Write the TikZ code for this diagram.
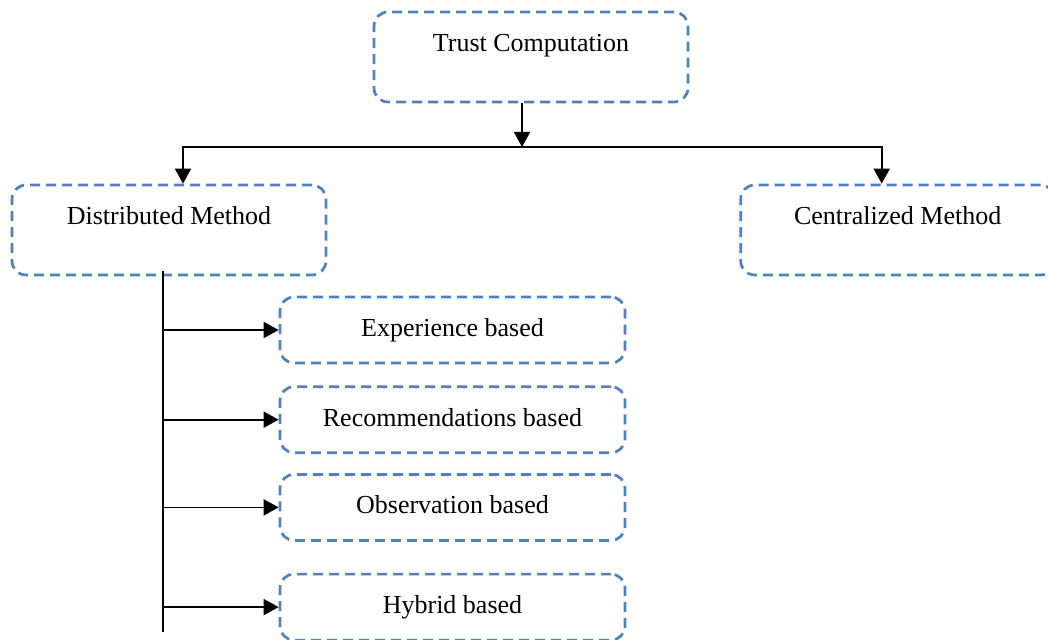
\documentclass[tikz,border=0pt]{standalone}
\usepackage{fontspec}
\setmainfont{Liberation Serif}
\usetikzlibrary{arrows.meta,positioning}
\definecolor{boxblue}{RGB}{79,129,189}

\begin{document}
\begin{tikzpicture}[
        x=0.5pt, y=-0.5pt,
        dashbox/.style={
            rectangle,
            draw=boxblue,
            dash pattern=on 5pt off 3pt,
            line width=1.35pt,
            rounded corners=7pt,
            align=center,
            inner sep=0pt,
            text height=9pt,
            font=\fontsize{13}{15}\selectfont
        },
        tallbox/.style={dashbox, minimum width=157pt, minimum height=45pt, text depth=14.5pt},
        shortbox/.style={dashbox, minimum width=172.5pt, minimum height=33pt, text depth=2.5pt},
        arrow/.style={-{Triangle[length=7.5pt, width=8pt]}, line width=0.9pt},
        line/.style={line width=0.9pt}
    ]
    \useasboundingbox (0,0) rectangle (1048,640);

    \node[tallbox] (trust) at (531,57) {Trust Computation};
    \node[tallbox] (dist) at (169,230) {Distributed Method};
    \node[tallbox, right=206pt of dist] (central) {Centralized Method};

    \node[shortbox] (exp) at (452.5,330) {Experience based};
    \node[shortbox, below=10.5pt of exp] (recom) {Recommendations based};
    \node[shortbox, below=9.5pt of recom] (obs) {Observation based};
    \node[shortbox, below=15.5pt of obs] (hybrid) {Hybrid based};

    \coordinate (bar) at (522,147);
    \coordinate (dtop) at ([xshift=7pt]dist.north);
    \coordinate (ctop) at ([xshift=-8pt]central.north);
    \coordinate (trunk) at ([xshift=-3pt, yshift=2.5pt]dist.south);
    \coordinate (trunkend) at (163,632);

    \draw[arrow] ([xshift=-4.5pt]trust.south) -- (bar);
    \draw[arrow] (bar) -| (dtop);
    \draw[arrow] (bar) -| (ctop);

    \draw[line] (trunk) -- (trunkend);
    \foreach \b in {exp,recom,obs,hybrid}
        \draw[arrow] (trunk |- \b.west) -- (\b.west);
\end{tikzpicture}
\end{document}
